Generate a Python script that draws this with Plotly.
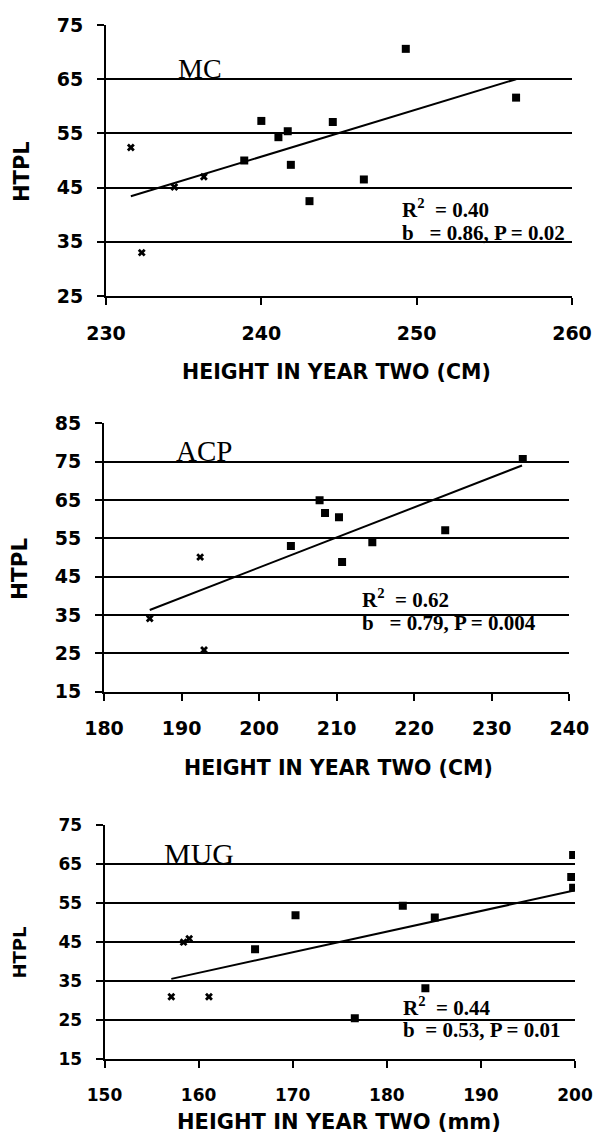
import plotly.graph_objects as go

W, H = 595, 1136

# ---------------- data ----------------
# Panel 1: MC
mc_cross_x = [231.6, 232.3, 234.4, 236.3]
mc_cross_y = [52.4, 33.0, 45.1, 47.0]
mc_sq_x = [238.9, 240.0, 241.1, 241.7, 241.9, 243.1, 244.6, 246.6, 249.3, 256.4]
mc_sq_y = [50.0, 57.3, 54.3, 55.4, 49.2, 42.5, 57.1, 46.5, 70.6, 61.6]
mc_trend_x = [231.6, 256.4]
mc_trend_y = [43.4, 65.0]

# Panel 2: ACP
acp_cross_x = [185.9, 192.4, 192.9]
acp_cross_y = [34.1, 50.1, 25.9]
acp_sq_x = [204.1, 207.8, 208.5, 210.3, 210.7, 214.6, 224.0, 234.0]
acp_sq_y = [53.0, 64.9, 61.6, 60.5, 48.8, 54.0, 57.1, 75.7]
acp_trend_x = [185.9, 233.9]
acp_trend_y = [36.3, 74.0]

# Panel 3: MUG
mug_cross_x = [157.1, 158.4, 159.0, 161.1]
mug_cross_y = [31.0, 45.0, 45.9, 31.0]
mug_sq_x = [166.0, 170.3, 176.6, 181.7, 184.1, 185.1, 199.6, 199.8, 199.8]
mug_sq_y = [43.2, 51.9, 25.5, 54.3, 33.2, 51.3, 61.7, 58.9, 67.3]
mug_trend_x = [157.1, 199.9]
mug_trend_y = [35.6, 58.2]

panel_names = ["MC", "ACP", "MUG"]
stats_r2 = ["0.40", "0.62", "0.44"]
stats_b = ["0.86", "0.79", "0.53"]
stats_p = ["0.02", "0.004", "0.01"]
x_titles = ["HEIGHT IN YEAR TWO (CM)", "HEIGHT IN YEAR TWO (CM)", "HEIGHT IN YEAR TWO (mm)"]
y_title = "HTPL"

x_ranges = [[230, 260], [180, 240], [150, 200]]
x_ticks = [[230, 240, 250, 260], [180, 190, 200, 210, 220, 230, 240], [150, 160, 170, 180, 190, 200]]
y_ranges = [[25, 75], [15, 85], [15, 75]]
y_ticks = [[25, 35, 45, 55, 65, 75], [15, 25, 35, 45, 55, 65, 75, 85], [15, 25, 35, 45, 55, 65, 75]]

# ---------------- layout geometry ----------------
xdom = [[106 / W, 572 / W], [104 / W, 569.3 / W], [104.5 / W, 575 / W]]
ydom = [[1 - 296 / H, 1 - 25 / H], [1 - 691.7 / H, 1 - 423.3 / H], [1 - 1059.3 / H, 1 - 825 / H]]

SANS = "DejaVu Sans"
SERIF = "Liberation Serif, Times New Roman, serif"
tick_sizes = [19, 19, 17]

fig = go.Figure()

series = [
    (mc_cross_x, mc_cross_y, mc_sq_x, mc_sq_y, mc_trend_x, mc_trend_y),
    (acp_cross_x, acp_cross_y, acp_sq_x, acp_sq_y, acp_trend_x, acp_trend_y),
    (mug_cross_x, mug_cross_y, mug_sq_x, mug_sq_y, mug_trend_x, mug_trend_y),
]

for i, (cx, cy, sx, sy, tx, ty) in enumerate(series):
    xa = "x" if i == 0 else f"x{i+1}"
    ya = "y" if i == 0 else f"y{i+1}"
    fig.add_trace(go.Scatter(x=tx, y=ty, mode="lines", xaxis=xa, yaxis=ya,
                             line=dict(color="black", width=2), showlegend=False, hoverinfo="skip"))
    fig.add_trace(go.Scatter(x=cx, y=cy, mode="markers", xaxis=xa, yaxis=ya,
                             marker=dict(symbol="x", size=7, color="black"), showlegend=False))
    fig.add_trace(go.Scatter(x=sx, y=sy, mode="markers", xaxis=xa, yaxis=ya,
                             marker=dict(symbol="square", size=8, color="black"), showlegend=False))

layout = dict(width=W, height=H, margin=dict(l=0, r=0, t=0, b=0),
              paper_bgcolor="white", plot_bgcolor="white", showlegend=False)

for i in range(3):
    xk = "xaxis" if i == 0 else f"xaxis{i+1}"
    yk = "yaxis" if i == 0 else f"yaxis{i+1}"
    ya = "y" if i == 0 else f"y{i+1}"
    xa = "x" if i == 0 else f"x{i+1}"
    layout[xk] = dict(domain=xdom[i], range=x_ranges[i], anchor=ya, tickvals=x_ticks[i],
                      automargin=False,
                      showgrid=False, zeroline=False, showline=True, linecolor="black", linewidth=1.8,
                      ticks="outside", ticklen=7, tickwidth=1.8, tickcolor="black",
                      tickfont=dict(family=SANS, size=tick_sizes[i], color="black", weight="bold"),
                      ticklabelstandoff=12, fixedrange=True)
    layout[yk] = dict(domain=ydom[i], range=y_ranges[i], anchor=xa, tickvals=y_ticks[i],
                      automargin=False,
                      showgrid=True, gridcolor="black", gridwidth=1.7, zeroline=False,
                      showline=True, linecolor="black", linewidth=2,
                      ticks="outside", ticklen=7, tickwidth=1.7, tickcolor="black",
                      tickfont=dict(family=SANS, size=tick_sizes[i], color="black", weight="bold"),
                      ticklabelstandoff=10, fixedrange=True)

fig.update_layout(**layout)

# ---------------- annotations ----------------
label_pos = [(234.5, 66.9, 28), (189.0, 77.7, 29), (156.1, 67.8, 30)]
stat_pos = [(248.9, 41.2, 36.6), (213.0, 39.3, 32.8), (181.5, 28.4, 22.4)]
b_gap = ["\u00a0\u00a0\u00a0", "\u00a0\u00a0\u00a0", "\u00a0\u00a0"]
xtitle_pos = [(336 / W, 1 - 371.7 / H, 20.5), (338 / W, 1 - 768 / H, 20.5), (339 / W, 1 - 1121.7 / H, 21)]
ytitle_pos = [(22 / W, 1 - 172 / H, 21), (19 / W, 1 - 569 / H, 21.5), (19 / W, 1 - 952.5 / H, 18)]

for i in range(3):
    xa = "x" if i == 0 else f"x{i+1}"
    ya = "y" if i == 0 else f"y{i+1}"
    lx, ly, ls = label_pos[i]
    fig.add_annotation(x=lx, y=ly, xref=xa, yref=ya, text=panel_names[i], showarrow=False,
                       xanchor="left", yanchor="middle",
                       font=dict(family=SERIF, size=ls, color="black"))
    sx, r2y, by = stat_pos[i]
    fig.add_annotation(x=sx, y=r2y, xref=xa, yref=ya,
                       text=f"R<sup>2</sup>\u00a0 = {stats_r2[i]}", showarrow=False,
                       xanchor="left", yanchor="middle",
                       font=dict(family=SERIF, size=21, color="black", weight="bold"))
    fig.add_annotation(x=sx, y=by, xref=xa, yref=ya,
                       text=f"b{b_gap[i]}= {stats_b[i]}, P = {stats_p[i]}", showarrow=False,
                       xanchor="left", yanchor="middle",
                       font=dict(family=SERIF, size=21, color="black", weight="bold"))
    tx, ty, ts = xtitle_pos[i]
    fig.add_annotation(x=tx, y=ty, xref="paper", yref="paper", text=x_titles[i], showarrow=False,
                       xanchor="center", yanchor="middle",
                       font=dict(family=SANS, size=ts, color="black", weight="bold"))
    yx, yy, ys = ytitle_pos[i]
    fig.add_annotation(x=yx, y=yy, xref="paper", yref="paper", text=y_title, showarrow=False,
                       textangle=-90, xanchor="center", yanchor="middle",
                       font=dict(family=SANS, size=ys, color="black", weight="bold"))

fig.write_html("out.html", config={"displayModeBar": False},
               post_script="document.body.style.margin='0';document.body.style.overflow='hidden';")
